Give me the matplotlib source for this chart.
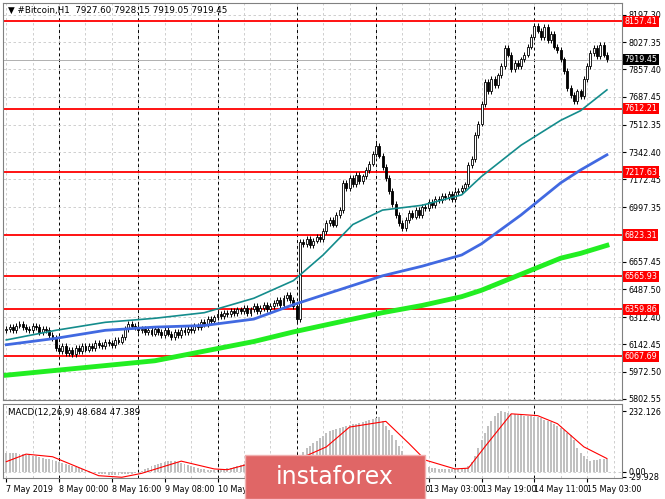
import matplotlib
matplotlib.use("Agg")
import matplotlib.pyplot as plt
import numpy as np

# --- datos (H1, un valor por vela) ---
closes = [6240, 6250, 6230, 6260, 6270, 6250, 6240, 6230, 6260, 6250, 6220, 6240, 6230, 6200, 6180,
          6120, 6100, 6130, 6090, 6110, 6080, 6120, 6100, 6130, 6110,
          6130, 6120, 6150, 6140, 6130, 6160, 6150, 6140, 6170, 6160, 6190,
          6240, 6270, 6260, 6250,
          6230, 6240, 6220, 6230, 6210, 6240, 6220, 6200, 6230, 6210, 6190, 6220, 6200, 6230, 6220,
          6240, 6230, 6260, 6250, 6280, 6270, 6300, 6290, 6310, 6330, 6320, 6340, 6330, 6350, 6340,
          6360, 6350, 6370, 6340, 6360, 6380, 6350, 6370, 6390, 6360, 6380, 6400, 6420, 6390, 6430, 6450, 6420, 6380,
          6300,
          6780, 6770, 6800, 6760, 6790, 6810, 6800,
          6850, 6900, 6920, 6890, 6950, 6980,
          7150, 7120, 7180, 7140, 7200, 7160, 7190, 7230, 7270,
          7330, 7380, 7320, 7250, 7180,
          7100, 7020, 6950, 6900, 6870, 6920,
          6960, 6940, 6980, 6950, 7000, 6990, 7030, 7010, 7050, 7040,
          7070, 7060, 7080, 7050, 7090, 7100, 7120, 7140,
          7260, 7300, 7450, 7520, 7640,
          7780, 7720, 7800, 7760, 7820, 7880, 7990, 7950,
          7860, 7900, 7880, 7920, 7950, 8000, 8060,
          8130, 8100, 8060, 8120, 8040, 8080, 8000,
          7980, 7920, 7850, 7740, 7700, 7660, 7720, 7690,
          7800, 7880, 7960, 7990, 7940, 8010, 7950, 7920]
first_open = 6230
wick = 18

ma_idx = [0, 15, 30, 45, 60, 75, 87, 96, 105, 114, 126, 138, 144, 156, 168, 174, 182]
ma_teal = [6170, 6230, 6280, 6305, 6340, 6430, 6540, 6700, 6890, 6980, 7010, 7075, 7190, 7385, 7540, 7600, 7730]
ma_blue = [6140, 6180, 6230, 6250, 6260, 6300, 6390, 6450, 6510, 6570, 6630, 6700, 6770, 6950, 7150, 7230, 7325]
ma_green = [5950, 5980, 6010, 6040, 6100, 6160, 6220, 6260, 6300, 6340, 6385, 6440, 6480, 6580, 6680, 6710, 6760]

levels = [8157.41, 7612.21, 7217.63, 6823.31, 6565.93, 6359.86, 6067.69]
price_ticks = [8197.30, 8027.35, 7857.40, 7687.45, 7512.35, 7342.40, 7172.45, 6997.35,
               6657.45, 6487.50, 6312.40, 6142.45, 5972.50, 5802.55]
last_price = 7919.45

macd_hist = [70, 72, 71, 70, 69, 68,
             65, 62, 60, 58, 55, 52, 50, 48, 45, 42,
             38, 34, 30, 26, 22, 18, 14, 10, 6, 2, -3, -7,
             -8, -10, -11, -12, -13, -12, -12, -11, -10, -9, -8, -6, -3,
             3, 8, 14, 20, 25, 30, 34, 38, 40, 42,
             40, 38, 34, 30, 25, 20, 16, 13,
             10, 8, 7, 6, 6, 7, 8, 10, 12, 15, 18, 22,
             26, 30, 33, 36, 38, 40, 42, 44, 46, 47, 48, 49, 50, 50, 48, 46, 44, 50,
             60, 75, 90, 100, 108, 118, 128, 138, 148, 155, 160, 165, 168,
             172, 176, 180, 182, 184, 186, 190, 194, 198, 202, 206, 209,
             195, 175, 158, 140, 120, 100, 80, 60,
             45, 38, 34, 30, 26, 22,
             18, 15, 13, 11, 10, 9, 8, 8, 8, 9, 11, 15, 20,
             35, 60, 90, 120, 150, 175, 195, 212, 225, 232,
             228, 225, 222, 220, 218, 216, 215, 214, 212, 210, 209,
             205, 200, 195, 190, 182, 175, 168, 160, 150, 140, 120,
             90, 70, 60, 50,
             42, 44, 46, 48, 49, 49]
sig_idx = [0, 6, 14, 28, 35, 41, 53, 63, 67, 78, 89, 97, 104, 115, 122, 127, 136, 140, 145, 153, 161, 167, 175, 182]
sig_val = [38, 67, 57, -16, -22, -7, 40, 10, 7, 44, 50, 95, 171, 193, 108, 44, 10, 13, 95, 222, 215, 184, 95, 50]

tick_bars = [0, 16, 32, 48, 64, 80, 96, 112, 128, 144, 160, 176]
tick_labels = ["7 May 2019", "8 May 00:00", "8 May 16:00", "9 May 08:00", "10 May 00:00",
               "10 May 16:00", "11 May 08:00", "12 May 00:00", "13 May 03:00",
               "13 May 19:00", "14 May 11:00", "15 May 03:00"]
day_bars = [16, 40, 64, 88, 112, 136, 160]

fs = 5.8

# --- figura ---
fig = plt.figure(figsize=(6.65, 4.99), dpi=100)
ax = fig.add_axes([0.0045, 0.198, 0.931, 0.796])
axm = fig.add_axes([0.0045, 0.042, 0.931, 0.148])

n = len(closes)
x = np.arange(n)
c = np.array(closes, dtype=float)
o = np.concatenate([[first_open], c[:-1]])
hi = np.maximum(o, c) + wick
lo = np.minimum(o, c) - wick

for a in (ax, axm):
    a.set_xlim(-1, 186.6)
    for b in range(0, 190, 8):
        a.axvline(b, color='#c8c8c8', ls=(0, (3, 3)), lw=0.6, zorder=0)
    for b in day_bars:
        a.axvline(b, color='black', ls=(0, (3, 3)), lw=0.7, zorder=0)
    for s in a.spines.values():
        s.set_color('#808080')

ax.set_ylim(5794, 8272)
for p in price_ticks:
    ax.axhline(p, color='#c8c8c8', ls=(0, (3, 3)), lw=0.6, zorder=0)

for lv in levels:
    ax.axhline(lv, color='red', lw=1.3, zorder=2)
ax.axhline(last_price, color='#b0b0b0', lw=0.7, zorder=1)

ax.vlines(x, lo, hi, color='black', lw=0.7, zorder=3)
up = c >= o
ax.bar(x[up], (c - o)[up], bottom=o[up], width=0.6, color='white', edgecolor='black', lw=0.6, zorder=4)
ax.bar(x[~up], (o - c)[~up], bottom=c[~up], width=0.6, color='black', edgecolor='black', lw=0.6, zorder=4)

ax.plot(ma_idx, ma_green, color='#22ee22', lw=3.5, zorder=5)
ax.plot(ma_idx, ma_blue, color='#4169e1', lw=2.0, zorder=5)
ax.plot(ma_idx, ma_teal, color='#148c8c', lw=1.2, zorder=5)

ax.yaxis.tick_right()
ax.set_yticks(price_ticks)
ax.set_yticklabels([f"{p:.2f}" for p in price_ticks], fontsize=fs)
ax.tick_params(axis='y', length=3, pad=1.5)
ax.set_xticks([])
for lv in levels:
    ax.text(1.004, lv, f"{lv:.2f}", transform=ax.get_yaxis_transform(), fontsize=fs,
            color='white', va='center', ha='left',
            bbox=dict(boxstyle='square,pad=0.15', fc='red', ec='none'), zorder=10, clip_on=False)
ax.text(1.004, last_price, f"{last_price:.2f}", transform=ax.get_yaxis_transform(), fontsize=fs,
        color='white', va='center', ha='left',
        bbox=dict(boxstyle='square,pad=0.15', fc='black', ec='none'), zorder=10, clip_on=False)
ax.text(0.008, 0.992, "▼ #Bitcoin,H1  7927.60 7928.15 7919.05 7919.45", transform=ax.transAxes,
        fontsize=6.3, va='top', ha='left')

# --- MACD ---
axm.set_ylim(-25, 259)
axm.bar(x, macd_hist, width=0.6, color='#c0c0c0', zorder=2)
axm.plot(sig_idx, sig_val, color='red', lw=0.8, zorder=3)
axm.axhline(0, color='#c8c8c8', ls=(0, (3, 3)), lw=0.6, zorder=0)
axm.yaxis.tick_right()
axm.set_yticks([232.126, 0, -20])
axm.set_yticklabels(["232.126", "0.00", "-29.928"], fontsize=fs)
axm.tick_params(axis='y', length=3, pad=1.5)
axm.set_xticks(tick_bars)
axm.set_xticklabels(tick_labels, fontsize=fs, ha='left')
axm.tick_params(axis='x', length=3, pad=2)
axm.text(0.008, 0.95, "MACD(12,26,9) 48.684 47.389", transform=axm.transAxes,
         fontsize=6.3, va='top', ha='left')

# --- logo ---
fig.patches.append(matplotlib.patches.Rectangle((245 / 665, 0), 180 / 665, 44 / 499,
                                                transform=fig.transFigure, fc='#e06666', ec='#f0b0b0',
                                                lw=1, zorder=20))
fig.text(335 / 665, 22 / 499, "instaforex", color='white', fontsize=17, ha='center', va='center', zorder=21)

fig.savefig("out.png", dpi=100)
